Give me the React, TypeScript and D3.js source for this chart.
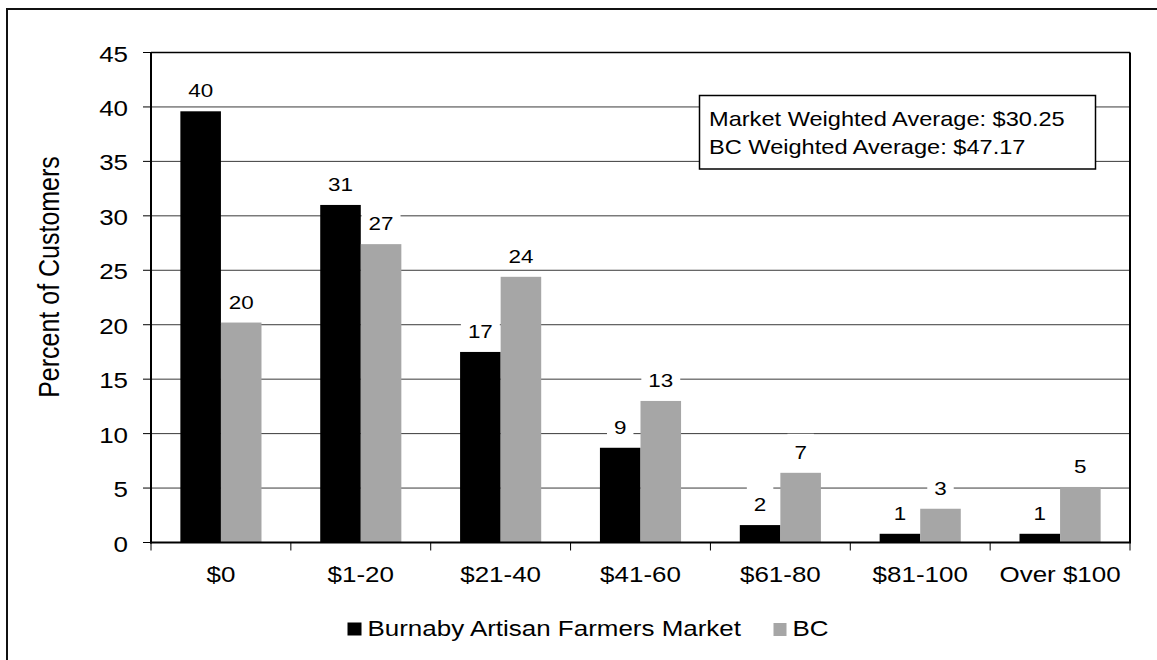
import React from "react";
import * as d3 from "d3";

const categories = ["$0", "$1-20", "$21-40", "$41-60", "$61-80", "$81-100", "Over $100"];
const seriesNames = ["Burnaby Artisan Farmers Market", "BC"];
const marketValues = [39.6, 31.0, 17.5, 8.7, 1.6, 0.8, 0.8];
const bcValues = [20.2, 27.4, 24.4, 13.0, 6.4, 3.1, 5.1];
const marketLabels = ["40", "31", "17", "9", "2", "1", "1"];
const bcLabels = ["20", "27", "24", "13", "7", "3", "5"];
const yTicks = [0, 5, 10, 15, 20, 25, 30, 35, 40, 45];
const yTitle = "Percent of Customers";
const noteLines = ["Market Weighted Average: $30.25", "BC Weighted Average: $47.17"];

const W = 1157;
const H = 660;
const SX = 1.18; // horizontal stretch of text
const FONT = "'Liberation Sans', Arial, Helvetica, sans-serif";
const colors = ["#000000", "#a6a6a6"];

export default function App() {
  const left = 151;
  const right = 1130;
  const top = 52.5;
  const bottom = 542.5;

  const x = d3.scaleBand<string>().domain(categories).range([left, right]).padding(0);
  const xSub = d3
    .scaleBand<string>()
    .domain(seriesNames)
    .range([0, x.bandwidth()])
    .paddingInner(0)
    .paddingOuter(0.724);
  const y = d3.scaleLinear().domain([0, 45]).range([bottom, top]);

  const series = [
    { name: seriesNames[0], values: marketValues, labels: marketLabels, color: colors[0] },
    { name: seriesNames[1], values: bcValues, labels: bcLabels, color: colors[1] },
  ];

  const labelFont = 19;
  const digitW = 0.556 * labelFont * SX;

  return (
    <svg
      width={W}
      height={H}
      style={{ position: "fixed", left: 0, top: 0, background: "#fff" }}
      fontFamily={FONT}
    >
      <rect x={0} y={0} width={W} height={H} fill="#fff" />
      {/* outer frame */}
      <rect x={7} y={9} width={W + 20} height={H + 20} fill="none" stroke="#111" strokeWidth={2} />

      {/* gridlines */}
      {yTicks.slice(1, -1).map((t) => (
        <line key={"g" + t} x1={left} x2={right} y1={y(t)} y2={y(t)} stroke="#3a3a3a" strokeWidth={1} />
      ))}
      {/* plot top & right border */}
      <line x1={left} x2={right} y1={y(45)} y2={y(45)} stroke="#000" strokeWidth={1.5} />
      <line x1={right} x2={right} y1={y(45)} y2={bottom} stroke="#000" strokeWidth={2} />

      {/* bars */}
      {series.map((s) =>
        categories.map((c, i) => (
          <rect
            key={s.name + c}
            x={(x(c) as number) + (xSub(s.name) as number)}
            y={y(s.values[i])}
            width={xSub.bandwidth()}
            height={bottom - y(s.values[i])}
            fill={s.color}
          />
        ))
      )}

      {/* y axis */}
      <line x1={left} x2={left} y1={y(45)} y2={bottom + 1} stroke="#000" strokeWidth={2} />
      {yTicks.map((t) => (
        <g key={"yt" + t}>
          <line x1={left - 8} x2={left} y1={y(t)} y2={y(t)} stroke="#000" strokeWidth={1} />
          <text
            transform={`translate(${128},${y(t) + 9}) scale(${SX},1)`}
            textAnchor="end"
            fontSize={22}
            fill="#000"
          >
            {t}
          </text>
        </g>
      ))}
      <text
        transform={`translate(${59},${277}) scale(${SX},1) rotate(-90)`}
        textAnchor="middle"
        fontSize={25}
        fill="#000"
      >
        {yTitle}
      </text>

      {/* x axis */}
      <line x1={left - 1} x2={right + 1} y1={bottom} y2={bottom} stroke="#000" strokeWidth={2} />
      {categories.map((c) => (
        <line
          key={"xt" + c}
          x1={x(c) as number}
          x2={x(c) as number}
          y1={bottom}
          y2={bottom + 8}
          stroke="#000"
          strokeWidth={1}
        />
      ))}
      <line x1={right} x2={right} y1={bottom} y2={bottom + 8} stroke="#000" strokeWidth={1} />
      {categories.map((c) => (
        <text
          key={"xl" + c}
          transform={`translate(${(x(c) as number) + x.bandwidth() / 2},${582}) scale(${SX},1)`}
          textAnchor="middle"
          fontSize={22}
          fill="#000"
        >
          {c}
        </text>
      ))}

      {/* data labels */}
      {series.map((s) =>
        categories.map((c, i) => {
          const cx = (x(c) as number) + (xSub(s.name) as number) + xSub.bandwidth() / 2;
          const base = y(s.values[i]) - 14;
          const w = s.labels[i].length * digitW + 14;
          return (
            <g key={"lab" + s.name + c}>
              <rect x={cx - w / 2} y={base - 25} width={w} height={30} fill="#fff" />
              <text
                transform={`translate(${cx},${base}) scale(${SX},1)`}
                textAnchor="middle"
                fontSize={labelFont}
                fill="#000"
              >
                {s.labels[i]}
              </text>
            </g>
          );
        })
      )}

      {/* note box */}
      <rect x={699.5} y={95.5} width={396} height={73.5} fill="#fff" stroke="#000" strokeWidth={1.5} />
      {noteLines.map((l, i) => (
        <text
          key={"n" + i}
          transform={`translate(${709},${126 + i * 28}) scale(${SX},1)`}
          fontSize={20}
          fill="#000"
        >
          {l}
        </text>
      ))}

      {/* legend */}
      <rect x={347.5} y={622.5} width={14} height={13} fill={colors[0]} />
      <text transform={`translate(${367.5},${636}) scale(${SX},1)`} fontSize={22} fill="#000">
        {seriesNames[0]}
      </text>
      <rect x={773.5} y={623} width={13} height={13} fill={colors[1]} />
      <text transform={`translate(${792.5},${636}) scale(${SX},1)`} fontSize={22} fill="#000">
        {seriesNames[1]}
      </text>
    </svg>
  );
}
